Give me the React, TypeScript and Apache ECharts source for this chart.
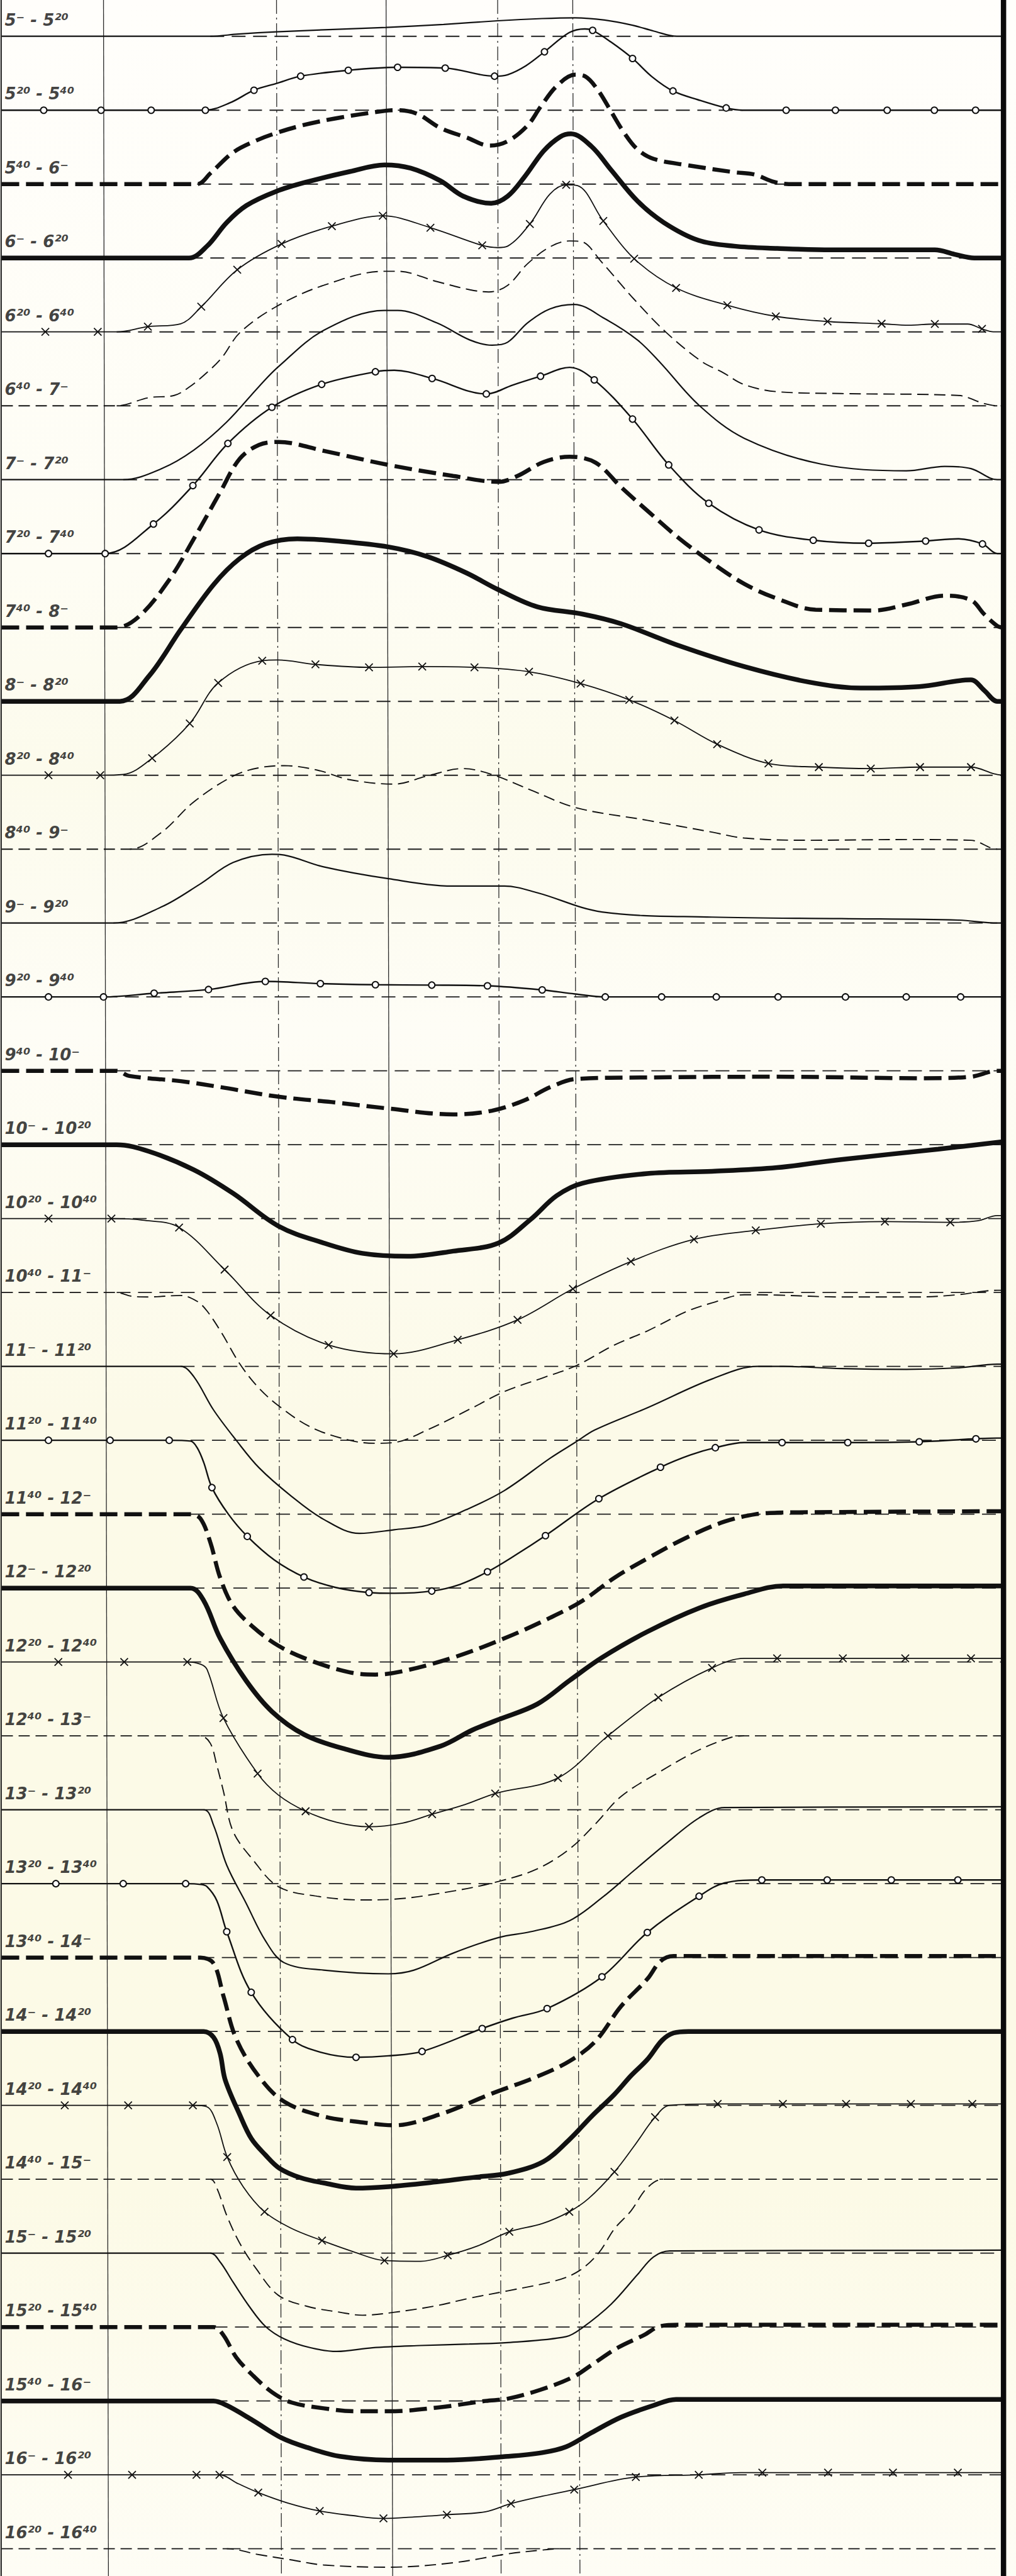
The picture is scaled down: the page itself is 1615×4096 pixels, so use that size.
import React, { useEffect, useRef } from "react";
import * as echarts from "echarts";

// ---------- Row labels (time intervals) ----------
const ROW_LABELS = [
  "5⁻ - 5²⁰", "5²⁰ - 5⁴⁰", "5⁴⁰ - 6⁻", "6⁻ - 6²⁰", "6²⁰ - 6⁴⁰", "6⁴⁰ - 7⁻",
  "7⁻ - 7²⁰", "7²⁰ - 7⁴⁰", "7⁴⁰ - 8⁻", "8⁻ - 8²⁰", "8²⁰ - 8⁴⁰", "8⁴⁰ - 9⁻",
  "9⁻ - 9²⁰", "9²⁰ - 9⁴⁰", "9⁴⁰ - 10⁻", "10⁻ - 10²⁰", "10²⁰ - 10⁴⁰", "10⁴⁰ - 11⁻",
  "11⁻ - 11²⁰", "11²⁰ - 11⁴⁰", "11⁴⁰ - 12⁻", "12⁻ - 12²⁰", "12²⁰ - 12⁴⁰", "12⁴⁰ - 13⁻",
  "13⁻ - 13²⁰", "13²⁰ - 13⁴⁰", "13⁴⁰ - 14⁻", "14⁻ - 14²⁰", "14²⁰ - 14⁴⁰", "14⁴⁰ - 15⁻",
  "15⁻ - 15²⁰", "15²⁰ - 15⁴⁰", "15⁴⁰ - 16⁻", "16⁻ - 16²⁰", "16²⁰ - 16⁴⁰",
];

const ROW_STYLES = [
  "thin", "circle", "thickDash", "thick", "cross", "thinDash",
  "thin", "circle", "thickDash", "thick", "cross", "thinDash",
  "thin", "circle", "thickDash", "thick", "cross", "thinDash",
  "thin", "circle", "thickDash", "thick", "cross", "thinDash",
  "thin", "circle", "thickDash", "thick", "cross", "thinDash",
  "thin", "thickDash", "thick", "cross", "thinDash",
];

// ---------- Curves: [x, deviation above own baseline (rows), marker?] ----------
const R0 = [[1,0],[128,0],[145,0.03],[168,0.06],[200,0.09],[235,0.12],[270,0.16],[303,0.21],[330,0.24],[350,0.25],[368,0.22],[385,0.15],[398,0.07],[412,0],[610,0]];
const R1 = [[1,0],[26.6,0,1],[61.5,0,1],[92,0,1],[125,0,1],[140,0.1],[154.6,0.27,1],[168,0.36],[183,0.46,1],[212,0.54,1],[242,0.58,1],[271,0.57,1],[301,0.46,1],[309,0.48],[320,0.6],[331.4,0.79,1],[346.5,1.05],[356,1.1],[360.7,1.08,1],[372,0.92],[385,0.7,1],[397,0.45],[409.6,0.26,1],[425,0.14],[442,0.03,1],[452,0],[478.5,0,1],[508.5,0,1],[540,0,1],[568.7,0,1],[593.8,0,1],[610,0]];
const R2 = [[1,0],[120,0],[128,0.145],[142,0.43],[156,0.59],[168,0.69],[185,0.8],[207,0.9],[234,0.99],[242,1.0],[254,0.95],[268,0.76],[284,0.63],[298,0.52],[309,0.58],[321,0.79],[329,1.045],[339,1.33],[350,1.48],[356,1.46],[364,1.27],[372,0.98],[380,0.69],[388,0.47],[398,0.34],[417,0.26],[447,0.16],[459,0.13],[471,0.03],[480,0],[610,0]];
const R3 = [[1,0],[115,0],[126,0.16],[138,0.48],[150,0.71],[168,0.9],[187,1.03],[213,1.17],[234,1.26],[250,1.215],[268,1.045],[282,0.836],[299,0.74],[309,0.836],[319,1.09],[331,1.45],[341,1.64],[347.5,1.68],[360,1.51],[372,1.19],[388,0.77],[404,0.48],[425,0.24],[447,0.16],[473,0.13],[506,0.11],[569,0.11],[581,0.05],[593,0],[610,0]];
const R4 = [[1,0],[27.6,0,1],[59.5,0,1],[71,0],[90,0.07,1],[110,0.11],[122.5,0.34,1],[144.4,0.84,1],[171.4,1.19,1],[202,1.43,1],[233,1.57,1],[262,1.41,1],[293.5,1.17,1],[303,1.14],[309,1.16],[322.5,1.46,1],[334.7,1.865],[344.6,1.99,1],[351.5,1.98],[367.2,1.5,1],[386,0.99,1],[411.5,0.595,1],[442.7,0.36,1],[472.2,0.21,1],[503.7,0.14,1],[536.6,0.11,1],[553,0.09],[569,0.106,1],[589,0.106],[597.7,0.04,1],[604.6,0],[610,0]];
const R5 = [[1,0],[71,0],[90.6,0.11],[106,0.14],[115,0.25],[126,0.45],[135,0.65],[146,0.99],[168,1.34],[197,1.63],[234,1.82],[242,1.82],[266,1.68],[286,1.57],[297.5,1.54],[309,1.63],[321,1.92],[334.7,2.15],[346.5,2.23],[354,2.22],[366,1.95],[386,1.44],[405.6,0.99],[427,0.6],[440,0.45],[453,0.286],[473,0.19],[512,0.165],[583,0.14],[599,0.03],[607,0],[610,0]];
const R6 = [[1,0],[75,0],[98.5,0.15],[118,0.4],[138,0.78],[157.6,1.26],[169,1.52],[197,2.02],[234,2.29],[242,2.29],[266,2.12],[286,1.89],[299.5,1.82],[309,1.86],[321,2.12],[334.7,2.31],[349.5,2.37],[368,2.18],[388,1.89],[402,1.58],[425.5,1.006],[453,0.56],[500,0.21],[551.6,0.12],[575,0.18],[591,0.15],[607,0],[610,0]];
const R7 = [[1,0],[29.5,0,1],[64,0,1],[93.4,0.4,1],[117.4,0.92,1],[138.7,1.49,1],[165.5,1.98,1],[195.8,2.29,1],[228.5,2.46,1],[240,2.48],[263,2.37,1],[296,2.16,1],[312,2.28],[329,2.4,1],[346.7,2.52],[361.7,2.35,1],[385,1.82,1],[407,1.2,1],[431.4,0.68,1],[462,0.32,1],[495,0.18,1],[528.7,0.14,1],[563.4,0.17,1],[583,0.2],[598,0.13,1],[607,0],[610,0]];
const R8 = [[1,0],[71,0],[84.7,0.15],[102.4,0.625],[118,1.2],[134,1.83],[145.8,2.28],[157.6,2.47],[169.4,2.51],[197,2.39],[236.4,2.2],[275.8,2.05],[303.4,1.97],[315,2.05],[331,2.24],[346.7,2.31],[362.5,2.23],[378,1.9],[394,1.58],[413.7,1.2],[433,0.88],[453,0.59],[473,0.39],[496.4,0.24],[532,0.23],[551.6,0.31],[575,0.43],[591,0.37],[599,0.18],[607,0.02],[610,0]];
const R9 = [[1,0],[73,0],[90.6,0.34],[110,0.97],[130,1.58],[145.8,1.93],[161.5,2.13],[181,2.2],[205,2.17],[236.4,2.09],[260,1.96],[283.7,1.74],[303.4,1.51],[327,1.28],[354.6,1.18],[378,1.05],[413.7,0.75],[453,0.47],[492.5,0.26],[524,0.18],[559.5,0.2],[591,0.29],[599,0.15],[607,0],[610,0]];
const R10 = [[1,0],[29.5,0,1],[61,0,1],[75,0.01],[92.6,0.23,1],[115.5,0.7,1],[132.8,1.25,1],[159.6,1.55,1],[169,1.56],[192,1.5,1],[224.6,1.46,1],[257,1.47,1],[288.8,1.46,1],[322,1.4,1],[353.4,1.24,1],[383,1.02,1],[410.5,0.74,1],[436.5,0.42,1],[467.7,0.16,1],[498.4,0.11,1],[530,0.09,1],[560,0.11,1],[591,0.11,1],[605,0.02],[610,0]];
const R11 = [[1,0],[79,0],[98.5,0.23],[118,0.64],[142,0.99],[157.6,1.1],[173,1.13],[193,1.07],[212.8,0.94],[240,0.88],[260,0.99],[281.7,1.09],[299.4,1.01],[323,0.8],[350.7,0.56],[394,0.39],[433.4,0.23],[453,0.15],[492.5,0.12],[551.6,0.13],[591,0.12],[607,0],[610,0]];
const R12 = [[1,0],[69,0],[98.5,0.22],[122,0.53],[142,0.82],[165.5,0.93],[173,0.92],[197,0.76],[236.4,0.6],[275.8,0.5],[307,0.5],[327,0.41],[366.4,0.15],[433.4,0.08],[512,0.06],[583,0.04],[607,0],[610,0]];
const R13 = [[1,0],[29.5,0,1],[63,0,1],[93.8,0.05,1],[126.9,0.1,1],[161.5,0.21,1],[195,0.18,1],[228.5,0.165,1],[262.8,0.16,1],[296.7,0.15,1],[330,0.095,1],[350,0.04],[368.4,0,1],[402.7,0,1],[436,0,1],[473.6,0,1],[514.6,0,1],[551.6,0,1],[584.7,0,1],[610,0]];
const R14 = [[1,0],[71,0],[78.8,-0.07],[110,-0.14],[134,-0.22],[169.4,-0.35],[205,-0.43],[236.4,-0.51],[275.8,-0.59],[299.4,-0.54],[319,-0.4],[335,-0.22],[350.7,-0.11],[394,-0.09],[473,-0.08],[563,-0.1],[591,-0.08],[607,0],[610,0]];
const R15 = [[1,0],[71,0],[90.6,-0.09],[118,-0.34],[142,-0.66],[169.4,-1.1],[197,-1.33],[220.6,-1.47],[248,-1.51],[275.8,-1.44],[303.4,-1.33],[323,-1.01],[338.8,-0.69],[354.6,-0.52],[394,-0.39],[433.4,-0.36],[473,-0.31],[512,-0.2],[571,-0.06],[610,0.04]];
const R16 = [[1,0],[29.5,0,1],[67.8,0,1],[86.7,-0.02],[109,-0.12,1],[136.7,-0.69,1],[164.7,-1.31,1],[200,-1.71,1],[239.6,-1.83,1],[278.6,-1.64,1],[315,-1.37,1],[348.7,-0.95,1],[384,-0.58,1],[422.4,-0.28,1],[460,-0.16,1],[499.6,-0.07,1],[538.6,-0.04,1],[578.4,-0.05,1],[595,-0.03],[607,0.04],[610,0.04]];
const R17 = [[1,0],[71,0],[80,-0.05],[90.6,-0.06],[110,-0.04],[120,-0.12],[126,-0.25],[135,-0.55],[145.8,-0.96],[157,-1.28],[169.4,-1.53],[189,-1.82],[212.8,-2.0],[228.5,-2.04],[240,-2.03],[260,-1.86],[287.6,-1.56],[307,-1.34],[331,-1.15],[350.7,-0.99],[374,-0.71],[394,-0.52],[417.6,-0.26],[433.4,-0.14],[453,-0.03],[473,-0.035],[512,-0.06],[559.5,-0.06],[583,-0.03],[607,0.03],[610,0.03]];
const R18 = [[1,0],[110,0],[118,-0.14],[130,-0.59],[143.8,-1.0],[157.6,-1.37],[177,-1.75],[197,-2.07],[218.7,-2.26],[240,-2.21],[260,-2.15],[283.7,-1.94],[307,-1.68],[335,-1.24],[350.7,-1.02],[362,-0.86],[394,-0.56],[433.4,-0.17],[461,0],[476.7,0],[512,-0.03],[551.6,-0.04],[583,-0.02],[607,0.03],[610,0.03]];
const R19 = [[1,0],[29.5,0,1],[67,0,1],[103,0,1],[116,-0.01],[120,-0.1],[124,-0.3],[129,-0.64,1],[139,-1.0],[150.5,-1.3,1],[167,-1.62],[185,-1.85,1],[204,-1.99],[224.6,-2.06,1],[240,-2.07],[262.8,-2.04,1],[280,-1.95],[296.7,-1.78,1],[314,-1.55],[332,-1.29,1],[364.5,-0.79,1],[402,-0.365,1],[420,-0.2],[435.4,-0.1,1],[453,-0.03],[476,-0.03,1],[516,-0.03,1],[559.5,-0.02,1],[594,0.02,1],[607,0.03],[610,0.03]];
const R20 = [[1,0],[116,0],[122,-0.06],[128,-0.38],[134,-0.86],[141.8,-1.24],[153.7,-1.52],[169.4,-1.78],[189,-1.98],[212.8,-2.14],[228.5,-2.17],[244,-2.13],[275.8,-1.94],[307,-1.68],[335,-1.4],[354.6,-1.17],[374,-0.86],[394,-0.6],[417.6,-0.32],[441,-0.1],[460,0],[473,0.02],[512,0.03],[610,0.04]];
const R21 = [[1,0],[116,0],[124,-0.17],[134,-0.68],[149.7,-1.25],[165.5,-1.67],[185,-1.98],[208.8,-2.17],[236.4,-2.29],[268,-2.14],[287.6,-1.92],[303.4,-1.78],[327,-1.57],[346.7,-1.25],[366.4,-0.94],[394,-0.59],[425.5,-0.27],[453,-0.08],[476.7,0.03],[610,0.03]];
const R22 = [[1,0],[35.5,0,1],[75.6,0,1],[114,0,1],[122,-0.03],[126,-0.1],[136,-0.76,1],[156.8,-1.51,1],[169.4,-1.8],[186,-2.02,1],[205,-2.17],[224.6,-2.23,1],[245,-2.18],[263,-2.06,1],[283,-1.93],[301.4,-1.78,1],[339.6,-1.57,1],[370,-1.0,1],[400.7,-0.48,1],[433.4,-0.08,1],[453,0.05],[473,0.05,1],[513,0.05,1],[551,0.05,1],[591,0.05,1],[610,0.05]];
const R23 = [[1,0],[122,0],[128,-0.1],[132,-0.4],[136,-0.75],[141.8,-1.29],[153.7,-1.67],[169.4,-2.04],[193,-2.17],[220.6,-2.22],[240,-2.21],[275.8,-2.1],[303.4,-1.97],[327,-1.8],[346.7,-1.53],[362.5,-1.19],[378,-0.82],[402,-0.48],[425.5,-0.19],[445,-0.02],[453,0],[610,0]];
const R24 = [[1,0],[124,0],[130,-0.21],[138,-0.75],[149.7,-1.26],[161.5,-1.77],[173,-2.07],[197,-2.17],[236.4,-2.22],[252,-2.17],[275.8,-1.94],[303.4,-1.73],[323,-1.65],[346.7,-1.5],[366.4,-1.19],[386,-0.82],[405.8,-0.45],[425.5,-0.11],[441,0.03],[610,0.04]];
const R25 = [[1,0],[34,0,1],[75,0,1],[113,0,1],[122,-0.01],[126,-0.04],[132,-0.23],[138,-0.65,1],[152.9,-1.47,1],[178,-2.11,1],[195,-2.28],[216.7,-2.35,1],[236.4,-2.33],[256.9,-2.27,1],[293.5,-1.96,1],[312,-1.82],[333,-1.69,1],[366.4,-1.26,1],[394,-0.66,1],[425.5,-0.17,1],[441,0.01],[463.7,0.05,1],[503.5,0.05,1],[542.5,0.05,1],[583,0.05,1],[610,0.05]];
const R26 = [[1,0],[122,0],[130,-0.08],[136,-0.52],[143.8,-1.1],[157.6,-1.61],[173,-1.95],[197,-2.15],[220.6,-2.23],[240,-2.27],[268,-2.12],[299.4,-1.84],[327,-1.61],[346.7,-1.4],[362.5,-1.13],[378,-0.66],[394,-0.29],[402,-0.05],[410,0.02],[610,0.02]];
const R27 = [[1,0],[124,0],[130,-0.08],[134,-0.3],[137,-0.65],[145.8,-1.12],[153,-1.45],[161.5,-1.67],[170,-1.85],[183,-1.98],[197,-2.05],[216.7,-2.12],[236.4,-2.1],[260,-2.05],[290,-1.97],[309,-1.92],[330.8,-1.76],[346.7,-1.46],[360,-1.15],[374,-0.85],[384,-0.6],[394,-0.38],[403,-0.12],[410,-0.02],[419,0],[610,0]];
const R28 = [[1,0],[39.4,0,1],[78,0,1],[117.4,0,1],[126,-0.02],[132,-0.25],[138.3,-0.7,1],[148,-1.1],[161,-1.44,1],[177,-1.66],[196,-1.83,1],[215,-1.98],[234,-2.1,1],[256,-2.11],[272.5,-2.03,1],[291,-1.9],[310,-1.71,1],[330,-1.6],[346.5,-1.44,1],[358.3,-1.26],[374,-0.9,1],[386,-0.55],[398.7,-0.16,1],[407.6,0],[436.8,0.02,1],[476.5,0.02,1],[515,0.02,1],[554.4,0.02,1],[591.8,0.02,1],[610,0.02]];
const R29 = [[1,0],[128,0],[132,-0.12],[138,-0.49],[145.8,-0.86],[155.6,-1.2],[169.4,-1.57],[187,-1.72],[206.9,-1.8],[220.6,-1.84],[240,-1.8],[266,-1.71],[285.7,-1.61],[309,-1.51],[338.6,-1.37],[352.4,-1.24],[364.3,-1.0],[374,-0.67],[384,-0.43],[393.8,-0.12],[403.7,0],[610,0]];
const R30 = [[1,0],[128,0],[134,-0.12],[141.8,-0.39],[151.7,-0.72],[161.5,-0.99],[173,-1.16],[189,-1.28],[205,-1.33],[226.6,-1.28],[256,-1.25],[285.7,-1.23],[309,-1.21],[344.6,-1.13],[354.4,-1.01],[372,-0.69],[388,-0.29],[397.8,-0.05],[407.6,0.03],[610,0.04]];
const R31 = [[1,0],[130,0],[136,-0.11],[143.8,-0.41],[153.7,-0.65],[165.5,-0.88],[177.3,-1.02],[197,-1.1],[216.7,-1.14],[236.4,-1.14],[266,-1.09],[295.5,-1.0],[309,-0.97],[328.8,-0.85],[348.5,-0.68],[360.3,-0.51],[376,-0.28],[391.8,-0.11],[401.7,0.01],[413.5,0.03],[610,0.03]];
const R32 = [[1,0],[130,0],[138,-0.06],[153.7,-0.26],[171.4,-0.5],[187,-0.63],[206.9,-0.75],[236.4,-0.8],[272,-0.8],[309,-0.75],[330,-0.7],[344.6,-0.62],[360,-0.43],[378,-0.22],[397.8,-0.06],[411.5,0.02],[610,0.02]];
const R33 = [[1,0],[41.4,0,1],[80.4,0,1],[119.6,0,1],[133.6,0,1],[145,-0.12],[157.2,-0.24,1],[175,-0.38],[194.6,-0.49,1],[214,-0.55],[233.4,-0.59,1],[252,-0.57],[272,-0.54,1],[295.5,-0.5],[311,-0.39,1],[330,-0.29],[349.5,-0.2,1],[387,-0.03,1],[425.3,0,1],[450.9,0.03],[464,0.03,1],[504,0.03,1],[543.5,0.03,1],[583,0.03,1],[610,0.03]];
const R34 = [[1,0],[138,0],[157.6,-0.08],[177,-0.15],[197,-0.22],[236.4,-0.25],[275.8,-0.19],[309,-0.07],[328.8,-0.02],[340.6,0],[610,0]];

const ROWS = [R0,R1,R2,R3,R4,R5,R6,R7,R8,R9,R10,R11,R12,R13,R14,R15,R16,R17,R18,R19,R20,R21,R22,R23,R24,R25,R26,R27,R28,R29,R30,R31,R32,R33,R34];

// ---------- Vertical reference lines (slightly slanted in the scan) ----------
const VLINE_TOP_X = [63, 168.3, 235, 302.9, 348.6];
const VLINE_BOTTOM_X = [66, 171.3, 239, 305, 353];
const VLINE_KIND = ["solid", "dashdot", "solid", "dashdot", "dashdot"];

// ---------- Layout constants ----------
const W = 1615;
const H = 4096;
const X_MAX = 618.4;
const Y_MIN = -0.491;
const Y_MAX = 34.369;
const RIGHT_BORDER_X = 610.8;
const LEFT_BORDER_X = 0.7;
const LABEL_X = 1.5;
const LABEL_LIFT = 0.22;
const INK = "#111111";

const CROSS = "path://M0,0L10,10M10,0L0,10";

const STYLE: Record<string, any> = {
  thin: { width: 2.2, type: "solid" },
  circle: { width: 2.4, type: "solid", symbol: "emptyCircle", size: 10 },
  thickDash: { width: 6.5, type: [28, 11] },
  thick: { width: 7.5, type: "solid" },
  cross: { width: 1.8, type: "solid", symbol: CROSS, size: 12 },
  thinDash: { width: 1.9, type: [18, 9] },
};

function buildOption() {
  const series: any[] = [];

  // vertical reference lines
  VLINE_TOP_X.forEach((xt, k) => {
    series.push({
      type: "line",
      data: [[xt, Y_MIN], [VLINE_BOTTOM_X[k], Y_MAX]],
      symbol: "none",
      silent: true,
      z: 1,
      lineStyle: {
        color: "#2a2a2a",
        width: 1.3,
        type: VLINE_KIND[k] === "solid" ? "solid" : [22, 6, 3, 6],
      },
    });
  });

  ROWS.forEach((pts: any[], i) => {
    const st = STYLE[ROW_STYLES[i]];
    // dashed baseline under the deviating part of the curve
    const k = pts.findIndex((p) => Math.abs(p[1]) > 0.015);
    let m = -1;
    for (let j = pts.length - 1; j >= 0; j--) {
      if (Math.abs(pts[j][1]) > 0.015) { m = j; break; }
    }
    if (k >= 0) {
      const bx0 = k > 0 ? pts[k - 1][0] : pts[0][0];
      const bx1 = m < pts.length - 1 ? pts[m + 1][0] : RIGHT_BORDER_X;
      series.push({
        type: "line",
        data: [[bx0, i], [bx1, i]],
        symbol: "none",
        silent: true,
        z: 1,
        lineStyle: { color: "#1e1e1e", width: 1.9, type: [22, 12] },
      });
    }
    const marker = st.symbol || "none";
    series.push({
      type: "line",
      name: ROW_LABELS[i],
      data: pts.map((p) => ({
        value: [p[0], i - p[1]],
        symbol: p[2] ? marker : "none",
      })),
      smooth: 0.35,
      symbol: marker,
      symbolSize: st.size || 0,
      showSymbol: true,
      showAllSymbol: true,
      silent: true,
      z: 3,
      lineStyle: { color: INK, width: st.width, type: st.type, cap: "butt" },
      itemStyle: { color: INK, borderColor: INK, borderWidth: 1.8 },
    });
  });

  // borders
  series.push({
    type: "line",
    data: [[RIGHT_BORDER_X, Y_MIN], [RIGHT_BORDER_X, Y_MAX]],
    symbol: "none", silent: true, z: 4,
    lineStyle: { color: "#0a0a0a", width: 8.5 },
  });
  series.push({
    type: "line",
    data: [[LEFT_BORDER_X, Y_MIN], [LEFT_BORDER_X, Y_MAX]],
    symbol: "none", silent: true, z: 4,
    lineStyle: { color: "#1a1a1a", width: 2 },
  });

  // row labels
  series.push({
    type: "scatter",
    data: ROW_LABELS.map((t, i) => ({ name: t, value: [LABEL_X, i - LABEL_LIFT] })),
    symbol: "circle",
    symbolSize: 1,
    silent: true,
    z: 5,
    itemStyle: { color: "rgba(0,0,0,0)" },
    label: {
      show: true,
      position: "right",
      distance: 3,
      formatter: (p: any) => p.name,
      fontFamily: "DejaVu Sans",
      fontStyle: "italic",
      fontWeight: "bold",
      fontSize: 26,
      color: INK,
    },
  });

  return {
    animation: false,
    backgroundColor: new echarts.graphic.LinearGradient(0, 0, 0, 1, [
      { offset: 0, color: "#fffefb" },
      { offset: 0.22, color: "#fefdf4" },
      { offset: 0.3, color: "#fcfbec" },
      { offset: 0.4, color: "#fefdf6" },
      { offset: 0.55, color: "#fcfae8" },
      { offset: 0.85, color: "#fcfae6" },
      { offset: 1, color: "#fefdf5" },
    ]),
    grid: { left: 0, right: 0, top: 0, bottom: 0, containLabel: false },
    xAxis: { type: "value", min: 0, max: X_MAX, show: false },
    yAxis: { type: "value", min: Y_MIN, max: Y_MAX, inverse: true, show: false },
    series,
  };
}

export default function App() {
  const ref = useRef<HTMLDivElement>(null);
  useEffect(() => {
    document.body.style.margin = "0";
    if (!ref.current) return;
    const chart = echarts.init(ref.current, undefined, { renderer: "svg", width: W, height: H });
    chart.setOption(buildOption() as any);
    return () => chart.dispose();
  }, []);
  return <div ref={ref} style={{ width: W, height: H }} />;
}
